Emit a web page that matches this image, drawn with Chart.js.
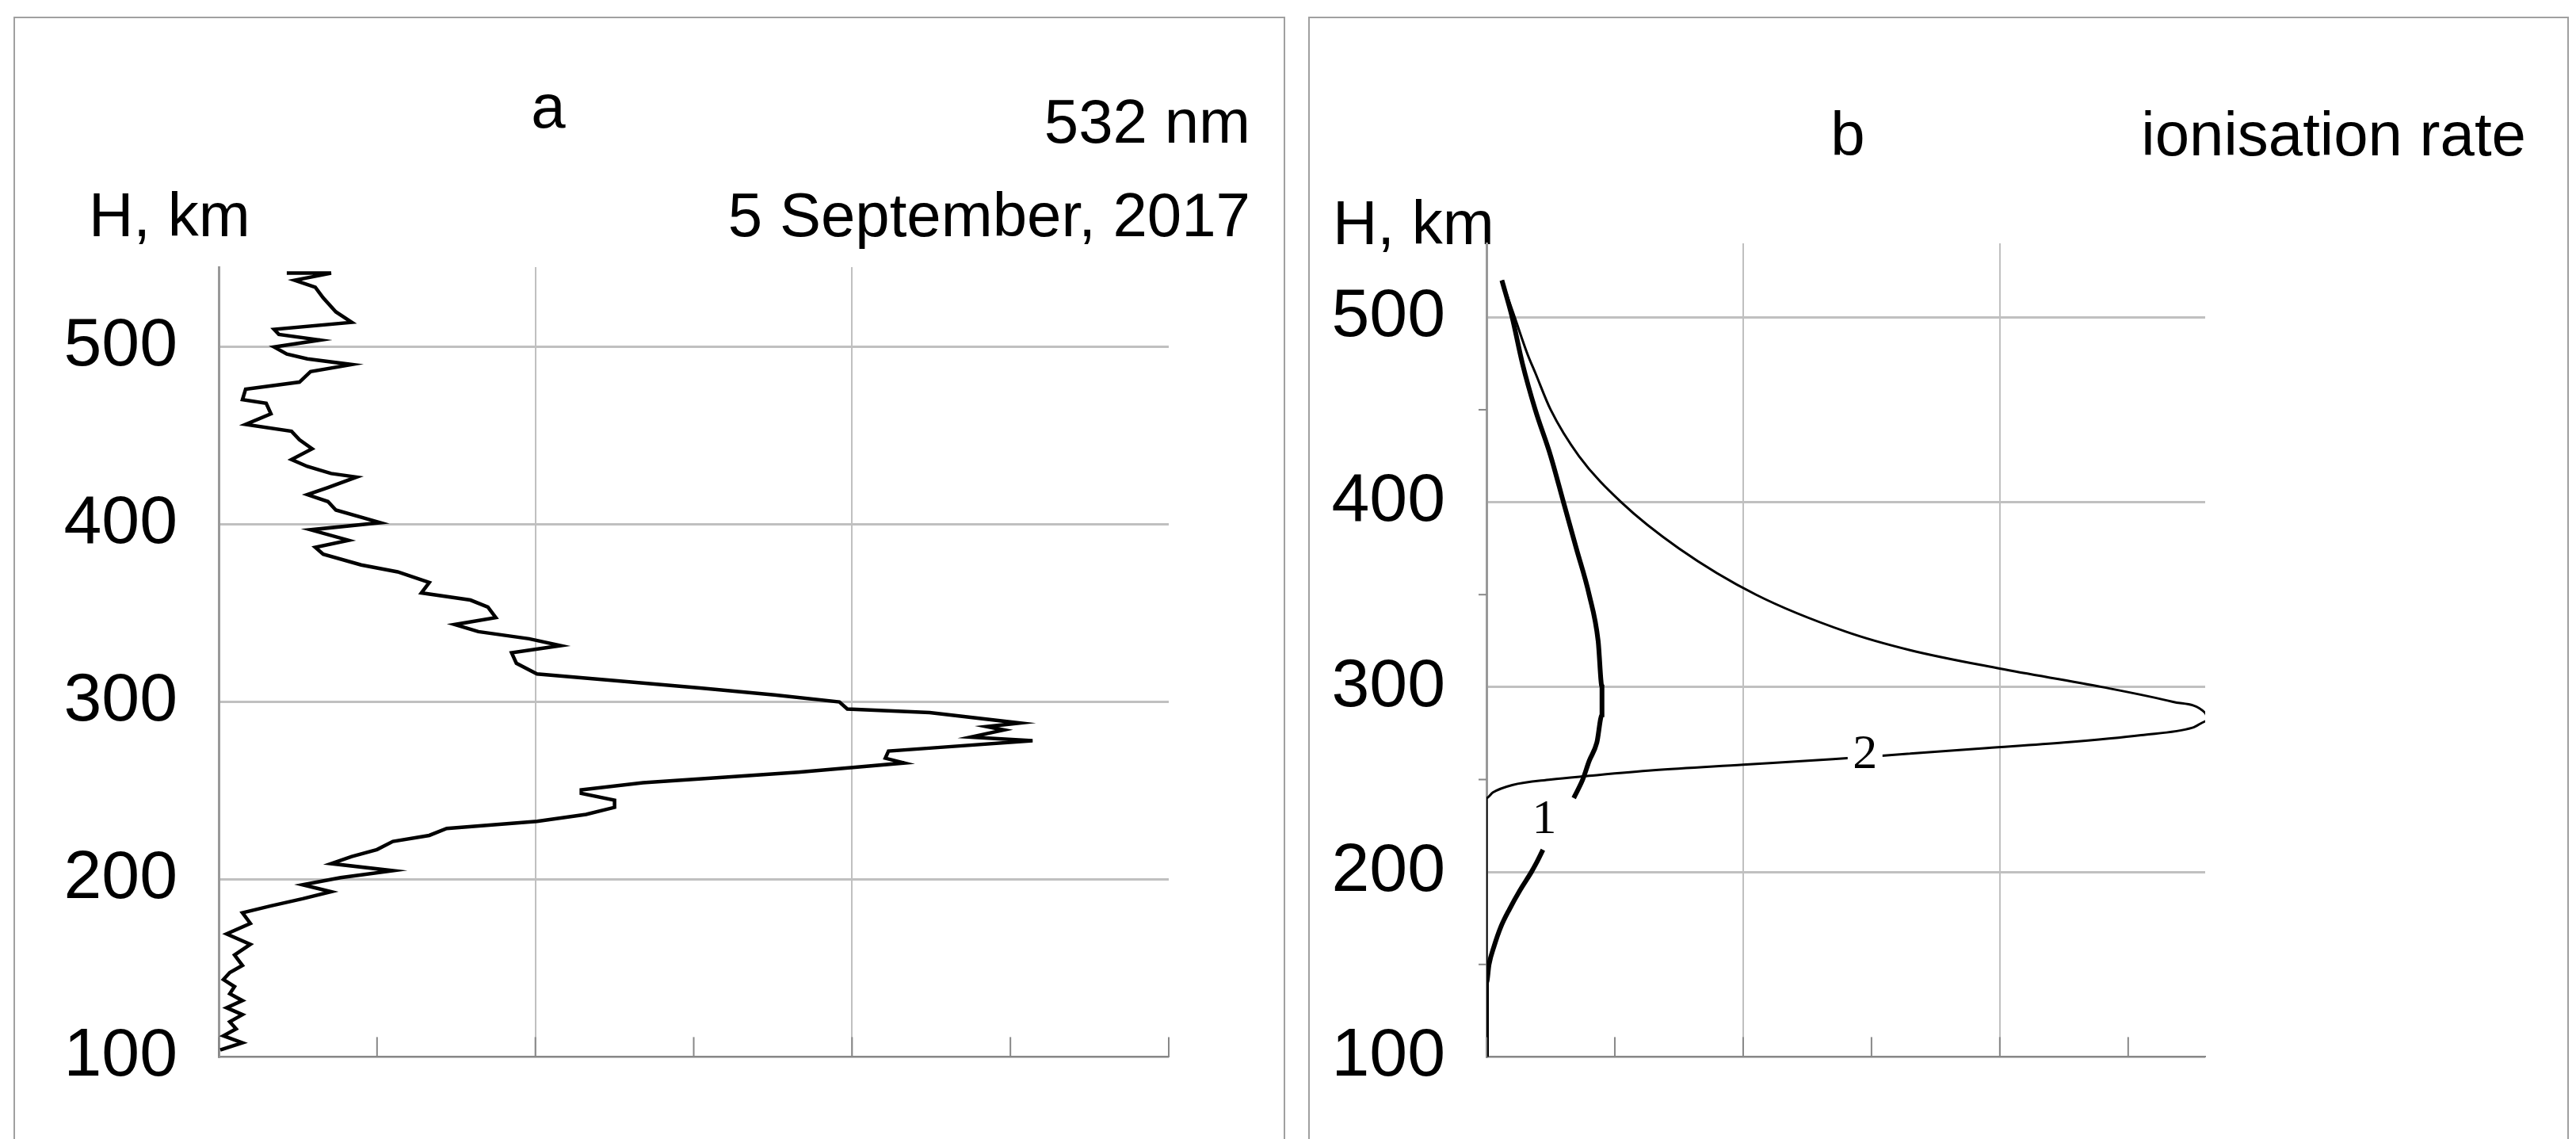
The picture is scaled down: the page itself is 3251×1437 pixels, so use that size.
<!DOCTYPE html>
<html><head><meta charset="utf-8">
<script src="https://cdn.jsdelivr.net/npm/chart.js@4/dist/chart.umd.min.js"></script>
<style>
body{margin:0;width:3251px;height:1437px;background:#fff;position:relative;overflow:hidden;font-family:"Liberation Sans",Arial,sans-serif;}
.panel{position:absolute;border:2px solid #a0a0a0;border-bottom:none;}
.t{position:absolute;font-size:78px;color:#000;line-height:1;white-space:nowrap;}
canvas{position:absolute;}
</style></head><body>
<div class="panel" style="left:17px;top:21px;width:1601px;height:1420px"></div>
<div class="panel" style="left:1651px;top:21px;width:1587px;height:1420px"></div>
<div class="t" style="left:692px;top:95px;transform:translateX(-50%)">a</div>
<div class="t" style="right:1673px;top:114px">532 nm</div>
<div class="t" style="right:1673px;top:232px">5 September, 2017</div>
<div class="t" style="left:112px;top:232px">H, km</div>
<div class="t" style="left:2332px;top:130px;transform:translateX(-50%)">b</div>
<div class="t" style="right:63px;top:130px">ionisation rate</div>
<div class="t" style="left:1682px;top:242px">H, km</div>
<div style="position:absolute;left:17px;top:21px;width:1603px;height:1416px"><canvas id="ca"></canvas></div>
<div style="position:absolute;left:1651px;top:21px;width:1589px;height:1416px"><canvas id="cb"></canvas></div>
<script>
// Panel a: lidar 532 nm profile (height km, signal in arbitrary units)
const aHeights=[541.6,541.6,537.6,533.7,527.7,519.8,513.9,509.9,507.1,503.9,500,496,493.3,490.1,486.1,480.2,476.2,470.3,468.3,462.4,456.4,452.5,447.7,442.6,436.6,432.7,428.7,426.7,420.8,416.8,412.9,408.1,401,397,391.1,387.1,383.2,377.2,373.3,367.3,361.4,357.4,353.5,347.5,343.6,339.6,335.6,331.7,327.7,321.8,315.8,311.9,307.9,303.9,300,296,294,288.1,286.1,284.2,280.2,278.2,274.3,272.3,268.3,265.6,263.2,260.4,257.6,254.5,250.5,248.5,244.6,240.6,236.6,232.7,228.7,224.8,221.4,216.8,212.9,208.9,204.9,201,197,193.1,189.1,185.1,181.2,175.2,169.3,163.4,157.4,151.5,147.5,143.6,139.6,135.6,131.7,127.7,123.8,119.8,115.8,111.9,107.9,103.9];
const aValues=[0.43,0.71,0.48,0.61,0.66,0.74,0.84,0.35,0.38,0.64,0.35,0.43,0.56,0.84,0.58,0.51,0.17,0.15,0.30,0.33,0.17,0.46,0.51,0.59,0.46,0.56,0.71,0.87,0.69,0.56,0.69,0.74,1.02,0.58,0.82,0.61,0.66,0.90,1.13,1.33,1.28,1.59,1.70,1.75,1.49,1.64,1.96,2.16,1.85,1.88,2.01,2.52,3.04,3.51,3.92,3.97,4.49,5.06,4.85,4.96,4.75,5.14,4.54,4.23,4.21,4.33,4.02,3.66,3.2,2.68,2.29,2.29,2.50,2.50,2.32,2.01,1.44,1.33,1.10,1.0,0.84,0.71,1.10,0.77,0.53,0.71,0.53,0.33,0.15,0.20,0.05,0.20,0.10,0.15,0.07,0.03,0.10,0.07,0.15,0.05,0.15,0.07,0.11,0.03,0.15,0.01];
// Panel b: ionisation rate, curve 1 (thick) and curve 2 (thin)
const b1HeightsUpper=[520,500,475,450,425,400,375,350,325,300,285,270,260,250,240];
const b1ValuesUpper=[0.12,0.2,0.28,0.38,0.5,0.6,0.7,0.8,0.87,0.9,0.9,0.86,0.8,0.75,0.68];
const b1HeightsLower=[212,205,200,190,180,170,160,150,140,100];
const b1ValuesLower=[0.44,0.39,0.35,0.26,0.18,0.11,0.06,0.02,0,0];
const b2Heights=[520,500,480,470,450,425,400,375,350,330,320,310,300,292,286,282,278,274,270,267,264,261,258,255,252,250,247,243,240,200,100];
const b2Values=[0.12,0.22,0.32,0.38,0.5,0.72,1.05,1.5,2.1,2.8,3.3,4.0,4.8,5.35,5.6,5.63,5.5,5.1,4.5,3.9,3.3,2.7,2.0,1.3,0.8,0.5,0.2,0.05,0,0,0];
const yTicks=[100,200,300,400,500];
const aXTicks=[0,1,2,3,4,5,6];
const bXTicks=[0,1,2,3,4,5];
const bMinorY=[150,250,350,450];

const pts=(h,v)=>h.map((y,i)=>({x:v[i],y}));
const font={family:"'Liberation Sans Narrow','Liberation Sans',Arial,sans-serif",size:86};
const tickPlugin={id:'tk',afterDraw(c){
  const o=c.options.plugins.tk;const xs=c.scales.x,ys=c.scales.y,ctx=c.ctx;
  ctx.save();ctx.strokeStyle='#888';ctx.lineWidth=2;
  o.xt.forEach(v=>{const p=xs.getPixelForValue(v);ctx.beginPath();ctx.moveTo(p,ys.bottom);ctx.lineTo(p,ys.bottom-25);ctx.stroke();});
  (o.ym||[]).forEach(v=>{const p=ys.getPixelForValue(v);ctx.beginPath();ctx.moveTo(xs.left,p);ctx.lineTo(xs.left-10,p);ctx.stroke();});
  ctx.restore();
}};
const lab={id:'lab',afterDraw(c){
  const o=c.options.plugins.lab;if(!o)return;const ctx=c.ctx;ctx.save();
  ctx.font="62px 'Liberation Serif',serif";ctx.textAlign='center';ctx.textBaseline='middle';
  o.forEach(l=>{const x=c.scales.x.getPixelForValue(l.x),y=c.scales.y.getPixelForValue(l.y);
    ctx.fillStyle='#fff';ctx.fillRect(x-22,y-28,44,56);ctx.fillStyle='#000';ctx.fillText(l.t,x,y);});
  ctx.restore();}};
function mk(id,ds,xmax,ymax,grids,xt,ym,pad,yw,labels){
  new Chart(document.getElementById(id),{type:'scatter',data:{datasets:ds},
  plugins:[tickPlugin,lab],
  options:{responsive:true,maintainAspectRatio:false,animation:false,
   layout:{padding:pad},
   plugins:{legend:{display:false},tooltip:{enabled:false},tk:{xt,ym},lab:labels},
   scales:{
    x:{type:'linear',min:0,max:xmax,afterFit:s=>{s.height=0;},ticks:{display:false,stepSize:1},
       border:{color:'#888',width:2},
       grid:{drawTicks:false,lineWidth:2,tickBorderDash:[4,3],color:ctx=>grids.includes(ctx.tick&&ctx.tick.value)?'#c0c0c0':'rgba(0,0,0,0)'}},
    y:{type:'linear',min:100,max:ymax,afterFit:s=>{s.width=yw;},
       afterBuildTicks:s=>{s.ticks=yTicks.map(v=>({value:v}));},
       border:{color:'#999',width:3},
       ticks:{font,color:'#000',padding:52},
       grid:{drawTicks:false,lineWidth:3,color:'#c0c0c0'}}
   }}});
}
Chart.defaults.elements.point.radius=0;
Chart.defaults.scale.grid.borderDash=[4,3];
mk('ca',[{data:pts(aHeights,aValues),showLine:true,borderColor:'#000',borderWidth:4.5,tension:0}],
  6,545,[2,4],aXTicks,[],{left:0,right:145,top:316,bottom:72},259,null);
mk('cb',[
  {data:pts(b2Heights,b2Values),showLine:true,borderColor:'#000',borderWidth:3,tension:0.4,cubicInterpolationMode:'monotone'},
  {data:pts(b1HeightsUpper,b1ValuesUpper),showLine:true,borderColor:'#000',borderWidth:6,tension:0.4,cubicInterpolationMode:'monotone'},
  {data:pts(b1HeightsLower,b1ValuesLower),showLine:true,borderColor:'#000',borderWidth:6,tension:0.4,cubicInterpolationMode:'monotone'}],
  5.6,540,[2,4],bXTicks,bMinorY,{left:0,right:457,top:286,bottom:72},225,[{x:0.45,y:228,t:'1'},{x:2.95,y:263,t:'2'}]);
</script></body></html>
